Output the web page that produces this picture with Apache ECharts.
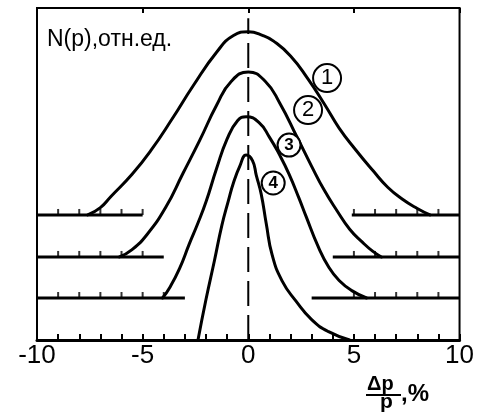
<!DOCTYPE html>
<html><head><meta charset="utf-8">
<script src="https://cdn.jsdelivr.net/npm/echarts/dist/echarts.min.js"></script>
<style>html,body{margin:0;padding:0;background:#fff}#c{width:477px;height:417px}</style>
</head><body><div id="c"></div>
<script>
// x-axis tick labels (Δp/p, %)
const xTickLabels = [-10, -5, 0, 5, 10];

// Curve 1
const x1 = [-7.6, -7.0, -6.5, -5.5, -4.6, -3.6, -2.6, -1.5, -0.7, 0, 0.7, 1.2, 2.0, 2.8, 3.6, 4.3, 5.1, 5.9, 6.6, 7.3, 8.0, 8.6];
const n1 = [0, 0.04, 0.10, 0.22, 0.35, 0.52, 0.70, 0.88, 0.97, 0.99, 0.97, 0.94, 0.86, 0.74, 0.60, 0.47, 0.35, 0.24, 0.15, 0.085, 0.035, 0];
// Curve 2
const x2 = [-6.1, -5.5, -4.8, -3.9, -3.1, -2.3, -1.5, -0.8, 0, 0.8, 1.5, 2.3, 3.0, 3.6, 4.2, 4.8, 5.4, 5.9, 6.3];
const n2 = [0, 0.04, 0.12, 0.27, 0.45, 0.63, 0.82, 0.95, 1.0, 0.95, 0.83, 0.65, 0.49, 0.36, 0.25, 0.15, 0.08, 0.03, 0];
// Curve 3
const x3 = [-4.06, -3.7, -3.25, -2.8, -2.4, -2.0, -1.5, -1.0, -0.5, -0.1, 0.5, 1.0, 1.5, 1.93, 2.4, 2.74, 3.3, 3.82, 4.3, 4.9, 5.6];
const n3 = [0, 0.06, 0.16, 0.29, 0.40, 0.52, 0.70, 0.86, 0.96, 0.98, 0.95, 0.87, 0.77, 0.67, 0.54, 0.44, 0.28, 0.165, 0.095, 0.04, 0];
// Curve 4
const x4 = [-2.38, -2.0, -1.6, -1.25, -0.95, -0.7, -0.4, -0.1, 0.2, 0.38, 0.61, 0.85, 1.13, 1.6, 2.26, 3.0, 3.8, 4.8];
const n4 = [0, 0.22, 0.43, 0.62, 0.75, 0.85, 0.94, 1.0, 0.97, 0.89, 0.79, 0.63, 0.46, 0.32, 0.21, 0.11, 0.045, 0];

// vertical offsets (baselines) of curves 1..4, relative units
const baselineOffsets = [0.676, 0.449, 0.227, 0];

// baseline segments drawn for curves 1..3 (x ranges)
const c1Segments = [[-10, -5], [4.9, 10]];
const c2Segments = [[-10, -4], [4, 10]];
const c3Segments = [[-10, -3], [3, 10]];
// ticks on those baselines
const c1Ticks = [-9, -8, -7, -6, -5, 5, 6, 7, 8, 9];
const c2Ticks = [-9, -8, -7, -6, -5, 5, 6, 7, 8, 9];
const c3Ticks = [-9, -8, -7, -6, -5, -4, 5, 6, 7, 8, 9];

// curve number markers
const markerText = ['1', '2', '3', '4'];
const markerX = [3.73, 2.83, 1.93, 1.18];
const markerY = [1.416, 1.243, 1.054, 0.849];

// dashed centre line extent
const centreLine = [[0, 0], [0, 1.74]];

const BLACK = '#000';
const xs = [x1, x2, x3, x4], ns = [n1, n2, n3, n4];
const series = [];

xs.forEach((xa, k) => {
  series.push({
    type: 'line', data: xa.map((x, i) => [x, ns[k][i] + baselineOffsets[k]]),
    symbol: 'none', smooth: true,
    lineStyle: { color: BLACK, width: 3, cap: 'round', join: 'round' }, z: 3, silent: true
  });
});

[c1Segments, c2Segments, c3Segments].forEach((segs, k) => {
  segs.forEach(s => {
    series.push({
      type: 'line', data: s.map(x => [x, baselineOffsets[k]]), symbol: 'none',
      lineStyle: { color: BLACK, width: 3 }, z: 2, silent: true
    });
  });
});
[c1Ticks, c2Ticks, c3Ticks].forEach((t, k) => {
  series.push({
    type: 'scatter', data: t.map(x => [x, baselineOffsets[k]]),
    symbol: 'rect', symbolSize: [2, 6], symbolOffset: [0, '-50%'],
    itemStyle: { color: BLACK }, z: 2, silent: true
  });
});

series.push({
  type: 'line', data: centreLine, symbol: 'none',
  lineStyle: { color: BLACK, width: 2, type: [25, 9] }, z: 1, silent: true
});

series.push({
  type: 'scatter',
  data: markerText.map((t, i) => ({
    name: t, value: [markerX[i], markerY[i]],
    symbolSize: i < 2 ? 28 : 23,
    label: { fontSize: i < 2 ? 22 : 17, fontWeight: i < 2 ? 'normal' : 'bold' }
  })),
  symbol: 'circle',
  itemStyle: { color: '#fff', borderColor: BLACK, borderWidth: 2, opacity: 1 },
  label: { show: true, position: 'inside', formatter: '{b}', color: BLACK, fontFamily: 'Liberation Sans' },
  z: 5, silent: true
});

const chart = echarts.init(document.getElementById('c'), null, { renderer: 'canvas' });
chart.setOption({
  animation: false,
  backgroundColor: '#fff',
  grid: { left: 37, right: 16, top: 8, bottom: 77, show: true, borderColor: BLACK, borderWidth: 2 },
  xAxis: [{
    type: 'value', min: xTickLabels[0], max: xTickLabels[xTickLabels.length - 1], interval: 5,
    position: 'bottom',
    axisLine: { lineStyle: { color: BLACK, width: 3 } },
    axisTick: { inside: true, length: 6, lineStyle: { color: BLACK, width: 2 } },
    minorTick: { show: true, splitNumber: 5, length: 6, lineStyle: { color: BLACK, width: 2 } },
    splitLine: { show: false },
    axisLabel: { color: BLACK, fontSize: 26, fontFamily: '"Liberation Sans Narrow", "Liberation Sans", sans-serif', margin: 3 }
  }, {
    type: 'value', min: -10, max: 10, interval: 5, position: 'top',
    axisLine: { show: false },
    axisTick: { inside: true, length: 5, lineStyle: { color: BLACK, width: 2 } },
    axisLabel: { show: false }, splitLine: { show: false }
  }],
  yAxis: { type: 'value', min: 0, max: 1.795, show: false },
  graphic: [
    { type: 'text', x: 47, y: 28, style: { text: 'N(p),отн.ед.', font: '23px "Liberation Sans"', fill: BLACK } },
    { type: 'text', x: 367, y: 374, style: { text: 'Δp', font: 'bold 20px "Liberation Sans"', fill: BLACK } },
    { type: 'line', shape: { x1: 366, y1: 395, x2: 401, y2: 395 }, style: { stroke: BLACK, lineWidth: 2 } },
    { type: 'text', x: 380, y: 392, style: { text: 'p', font: 'bold 21px "Liberation Sans"', fill: BLACK } },
    { type: 'text', x: 401, y: 382, style: { text: ',%', font: 'bold 24px "Liberation Sans"', fill: BLACK } }
  ],
  series
});
</script></body></html>
